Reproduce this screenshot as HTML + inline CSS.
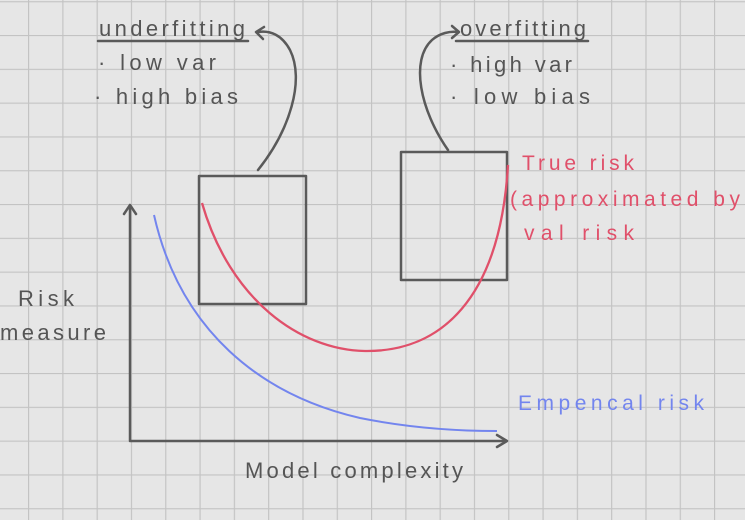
<!DOCTYPE html>
<html><head><style>
html,body{margin:0;padding:0;background:#e6e6e6;}
svg{display:block}
text{font-family:"Liberation Sans",sans-serif;}
</style></head><body>
<svg width="745" height="520" viewBox="0 0 745 520" xmlns="http://www.w3.org/2000/svg">
<defs>
<pattern id="gx" x="28" y="0" width="34.3" height="520" patternUnits="userSpaceOnUse"><line x1="0.5" y1="0" x2="0.5" y2="520" stroke="#c3c3c3" stroke-width="1.3"/></pattern>
<pattern id="gy" x="0" y="1.2" width="745" height="33.8" patternUnits="userSpaceOnUse"><line x1="0" y1="0.5" x2="745" y2="0.5" stroke="#c3c3c3" stroke-width="1.3"/></pattern>
</defs>
<rect width="745" height="520" fill="#e6e6e6"/>
<rect width="745" height="520" fill="url(#gx)"/>
<rect width="745" height="520" fill="url(#gy)"/>
<g fill="none" stroke="#5a5a5a" stroke-width="2.5" stroke-linecap="round" stroke-linejoin="round">
<path d="M130 207 L130 441 L505 441"/>
<path d="M124 214 L130 205 L136 214"/>
<path d="M497 435 L507 441 L497 447"/>
<rect x="199" y="176" width="107" height="128"/>
<rect x="401" y="152" width="106" height="128"/>
<path d="M258 170 C290 130 305 80 290 50 C282 35 270 30 258 32"/>
<path d="M264 27 L256 32 L263 39"/>
<path d="M448 150 C420 110 410 60 432 40 C440 33 450 31 458 32"/>
<path d="M452 26 L459 32 L452 38"/>
<line x1="98" y1="41" x2="248" y2="41"/>
<line x1="456" y1="41" x2="588" y2="41"/>
</g>
<path d="M202 203 C230 300 300 350 365 351 C440 352 500 300 508 165" fill="none" stroke="#e0506a" stroke-width="2.3"/>
<path d="M154 215 C180 330 260 395 360 418 C420 430 470 431 497 431" fill="none" stroke="#7385ee" stroke-width="2"/>
<g fill="#555" font-size="22">
<text x="99" y="36" textLength="146" lengthAdjust="spacing">underfitting</text>
<text x="98" y="70" textLength="118" lengthAdjust="spacing">· low var</text>
<text x="94" y="104" textLength="144" lengthAdjust="spacing">· high bias</text>
<text x="460" y="36" textLength="126" lengthAdjust="spacing">overfitting</text>
<text x="450" y="72" textLength="122" lengthAdjust="spacing">· high var</text>
<text x="450" y="104" textLength="140" lengthAdjust="spacing">· low bias</text>
<text x="18" y="306" textLength="56" lengthAdjust="spacing">Risk</text>
<text x="0" y="340" textLength="106" lengthAdjust="spacing">measure</text>
<text x="245" y="478" textLength="218" lengthAdjust="spacing">Model complexity</text>
</g>
<g fill="#e0506a" font-size="21">
<text x="522" y="170" textLength="112" lengthAdjust="spacing">True risk</text>
<text x="510" y="206" textLength="230" lengthAdjust="spacing">(approximated by</text>
<text x="524" y="240" textLength="110" lengthAdjust="spacing">val risk</text>
</g>
<text x="518" y="410" fill="#7385ee" font-size="21" textLength="186" lengthAdjust="spacing">Empencal risk</text>
</svg>
</body></html>
